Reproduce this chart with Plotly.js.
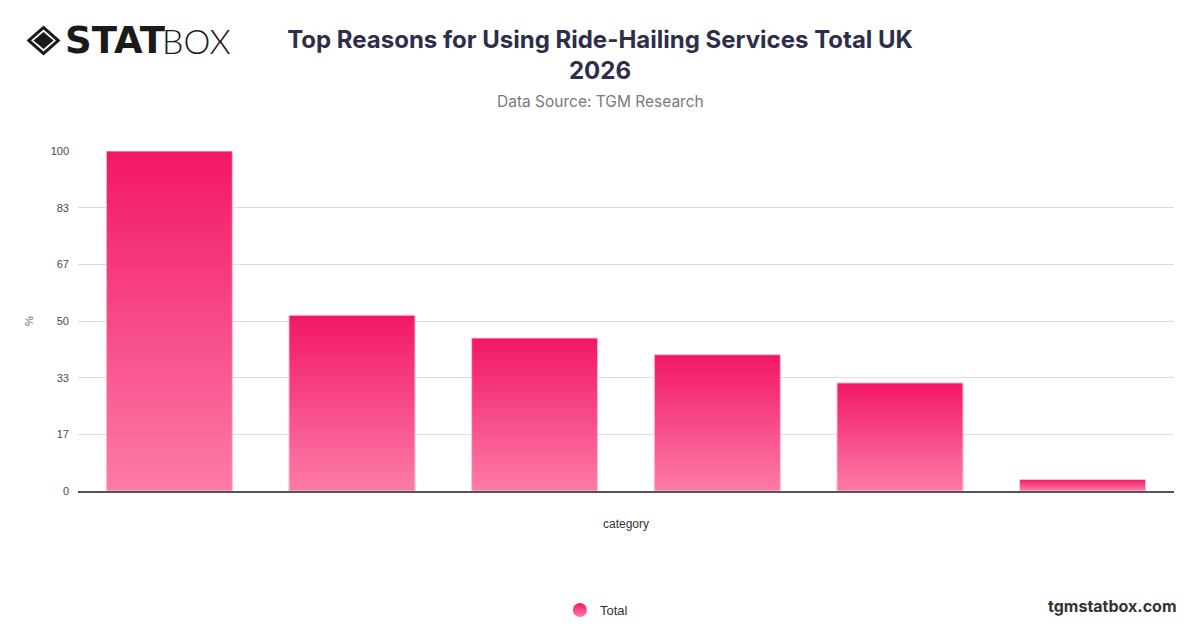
<!DOCTYPE html>
<html>
<head>
<meta charset="utf-8">
<script src="https://cdn.plot.ly/plotly-3.0.1.min.js"></script>
<style>
html,body{margin:0;padding:0;background:#fff;}
#chart{width:1200px;height:628px;}
</style>
</head>
<body>
<div id="chart"></div>
<script>
// Data
const categories = ["Reason 1", "Reason 2", "Reason 3", "Reason 4", "Reason 5", "Reason 6"];
const totalValues = [100, 51.7, 45.0, 40.1, 31.8, 3.4];
const seriesName = "Total";
const yTickVals = [0, 16.67, 33.33, 50, 66.67, 83.33, 100];
const yTickText = ["0", "17", "33", "50", "67", "83", "100"];

function px2x(px) { return (px - 78) / 1096; }
function px2y(py) { return (491 - py) / 340; }
function diamondPath(cx, cy, rx, ry) {
  return "M " + px2x(cx) + "," + px2y(cy - ry) +
         " L " + px2x(cx + rx) + "," + px2y(cy) +
         " L " + px2x(cx) + "," + px2y(cy + ry) +
         " L " + px2x(cx - rx) + "," + px2y(cy) + " Z";
}

const axisFont = "'Liberation Sans', Arial, sans-serif";

const barTrace = {
  type: "bar",
  x: categories,
  y: totalValues,
  name: seriesName,
  showlegend: false,
  marker: { color: "#f63f7c", line: { color: "#fbc3d6", width: 1 } },
  hoverinfo: "y"
};
const legendTrace = {
  type: "scatter",
  mode: "markers",
  x: [null],
  y: [null],
  name: seriesName,
  marker: { color: "#f63f7c", size: 14, symbol: "circle", line: { width: 0 } },
  hoverinfo: "skip"
};

const layout = {
  width: 1200,
  height: 628,
  paper_bgcolor: "#ffffff",
  plot_bgcolor: "#ffffff",
  margin: { l: 78, r: 26, t: 151, b: 137, autoexpand: false },
  bargap: 0.31,
  font: { family: axisFont, color: "#444" },
  title: {
    text: "Top Reasons for Using Ride-Hailing Services Total UK<br>2026",
    font: { family: "Inter, sans-serif", size: 24, color: "#2e2d4a", weight: 700 },
    x: 0.5, xanchor: "center", xref: "container",
    y: 1 - 48 / 628, yanchor: "middle", yref: "container"
  },
  xaxis: {
    type: "category",
    showticklabels: false,
    showgrid: false,
    zeroline: false,
    showline: true,
    linecolor: "#555",
    linewidth: 1.5,
    ticks: "",
    fixedrange: true,
    automargin: false,
    title: { text: "category", font: { size: 12, color: "#333" }, standoff: 28 }
  },
  yaxis: {
    range: [0, 100],
    tickvals: yTickVals,
    ticktext: yTickText,
    tickfont: { size: 11, color: "#4a4a4a" },
    showgrid: true,
    gridcolor: "#dcdcdc",
    gridwidth: 1,
    zeroline: false,
    showline: false,
    ticks: "",
    ticklabelstandoff: 8,
    fixedrange: true,
    automargin: false,
    title: { text: "%", font: { size: 11, color: "#666" }, standoff: 14 }
  },
  legend: {
    orientation: "h",
    xref: "container", x: 0.497, xanchor: "center",
    yref: "container", y: (628 - 610) / 628, yanchor: "middle",
    font: { size: 13, color: "#333" }
  },
  annotations: [
    {
      text: "Data Source: TGM Research",
      xref: "paper", yref: "paper", x: px2x(600), y: px2y(101),
      xanchor: "center", yanchor: "middle", showarrow: false,
      font: { family: "Inter, sans-serif", size: 15.5, color: "#7a7a7a" }
    },
    {
      text: "tgmstatbox.com",
      xref: "paper", yref: "paper", x: px2x(1179), y: px2y(606),
      xanchor: "right", yanchor: "middle", showarrow: false,
      font: { family: "Inter, sans-serif", size: 16, color: "#333", weight: 700 }
    },
    {
      text: "<b>STAT</b>",
      xref: "paper", yref: "paper", x: px2x(63), y: px2y(40),
      xanchor: "left", yanchor: "middle", showarrow: false,
      font: { family: "'DejaVu Sans', sans-serif", size: 37, color: "#1a1a1a", weight: 900 }
    },
    {
      text: "BOX",
      xref: "paper", yref: "paper", x: px2x(160), y: px2y(40),
      xanchor: "left", yanchor: "middle", showarrow: false,
      font: { family: "Lato, sans-serif", size: 34, color: "#1a1a1a", weight: 300 }
    }
  ],
  shapes: [
    {
      type: "path", xref: "paper", yref: "paper",
      path: diamondPath(43.5, 40.5, 17, 15),
      fillcolor: "#1a1a1a", line: { width: 0 }
    },
    {
      type: "path", xref: "paper", yref: "paper",
      path: diamondPath(43.5, 40.5, 12.5, 11),
      fillcolor: "#ffffff", line: { width: 0 }
    },
    {
      type: "path", xref: "paper", yref: "paper",
      path: diamondPath(43.5, 40.5, 10, 8.5),
      fillcolor: "#1a1a1a", line: { width: 0 }
    }
  ]
};

function applyGradient(gd) {
  const svg = gd.querySelector("svg.main-svg");
  if (!svg) return;
  let defs = svg.querySelector("defs");
  if (!defs) {
    defs = document.createElementNS("http://www.w3.org/2000/svg", "defs");
    svg.insertBefore(defs, svg.firstChild);
  }
  if (!svg.querySelector("#barGrad")) {
    const ns = "http://www.w3.org/2000/svg";
    const lg = document.createElementNS(ns, "linearGradient");
    lg.setAttribute("id", "barGrad");
    lg.setAttribute("x1", "0"); lg.setAttribute("y1", "0");
    lg.setAttribute("x2", "0"); lg.setAttribute("y2", "1");
    [["0", "#f31766"], ["0.5", "#f7498a"], ["1", "#fc7ca6"]].forEach(s => {
      const st = document.createElementNS(ns, "stop");
      st.setAttribute("offset", s[0]); st.setAttribute("stop-color", s[1]);
      lg.appendChild(st);
    });
    defs.appendChild(lg);
  }
  gd.querySelectorAll(".barlayer .point path").forEach(p => {
    p.style.fill = "url(#barGrad)";
  });
  gd.querySelectorAll(".legend .legendpoints path").forEach(p => {
    p.style.fill = "url(#barGrad)";
  });
}

const gd = document.getElementById("chart");
Plotly.newPlot(gd, [barTrace, legendTrace], layout, { displayModeBar: false, staticPlot: true })
  .then(() => applyGradient(gd));
</script>
</body>
</html>
